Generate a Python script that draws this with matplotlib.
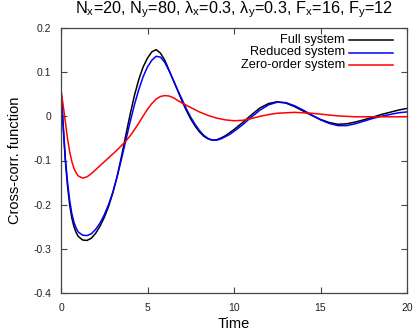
import matplotlib
matplotlib.use("Agg")
import matplotlib.pyplot as plt
from matplotlib.lines import Line2D

plt.rcParams['font.family'] = ['Liberation Sans', 'DejaVu Sans']
plt.rcParams['mathtext.fontset'] = 'custom'
plt.rcParams['mathtext.rm'] = 'Liberation Sans'
plt.rcParams['mathtext.it'] = 'Liberation Sans'

time = [0.0, 0.125, 0.25, 0.375, 0.5, 0.625, 0.75, 0.875, 1.0, 1.25, 1.5, 1.75,
        2.0, 2.25, 2.5, 2.75, 3.0, 3.25, 3.5, 3.75, 4.0, 4.25, 4.5, 4.75,
        5.0, 5.25, 5.5, 5.75, 6.0, 6.25, 6.5, 6.75, 7.0, 7.25, 7.5, 7.75,
        8.0, 8.25, 8.5, 8.75, 9.0, 9.25, 9.5, 9.75, 10.0, 10.5, 11.0, 11.5,
        12.0, 12.5, 13.0, 13.5, 14.0, 14.5, 15.0, 15.5, 16.0, 16.5, 17.0,
        17.5, 18.0, 18.5, 19.0, 19.5, 20.0]

full_system = [0.06, -0.022, -0.10, -0.157, -0.20, -0.23, -0.25, -0.263, -0.272,
               -0.280, -0.281, -0.276,
               -0.265, -0.249, -0.229, -0.204, -0.173, -0.135, -0.090, -0.042,
               0.005, 0.048, 0.084, 0.112, 0.132, 0.146, 0.151, 0.143,
               0.127, 0.104, 0.081, 0.058, 0.034, 0.013, -0.006, -0.022,
               -0.035, -0.045, -0.051, -0.054, -0.053, -0.049, -0.044, -0.037,
               -0.030, -0.014, 0.003, 0.019, 0.029, 0.033, 0.030,
               0.022, 0.012, 0.002, -0.007, -0.014, -0.018, -0.017, -0.013,
               -0.008, -0.002, 0.004, 0.009, 0.014, 0.018]

reduced_system = [0.06, -0.02, -0.095, -0.148, -0.19, -0.22, -0.24, -0.253, -0.262,
                  -0.269, -0.270, -0.266,
                  -0.256, -0.242, -0.223, -0.200, -0.171, -0.136, -0.096, -0.054,
                  -0.012, 0.027, 0.061, 0.090, 0.112, 0.127, 0.136, 0.134,
                  0.122, 0.103, 0.081, 0.059, 0.038, 0.017, -0.002, -0.018,
                  -0.032, -0.043, -0.050, -0.054, -0.054, -0.051, -0.046, -0.041,
                  -0.034, -0.019, -0.002, 0.014, 0.026, 0.032, 0.031,
                  0.024, 0.014, 0.003, -0.008, -0.016, -0.021, -0.021, -0.017,
                  -0.011, -0.005, 0.000, 0.004, 0.008, 0.010]

zero_order_system = [0.06, 0.025, -0.012, -0.05, -0.08, -0.102, -0.118, -0.128, -0.135,
                     -0.140, -0.137, -0.130,
                     -0.121, -0.112, -0.103, -0.094, -0.085, -0.076, -0.066, -0.056,
                     -0.044, -0.030, -0.015, 0.001, 0.016, 0.029, 0.039, 0.045,
                     0.047, 0.046, 0.042, 0.036, 0.030, 0.025, 0.020, 0.015,
                     0.010, 0.006, 0.002, -0.001, -0.004, -0.006, -0.008, -0.009,
                     -0.010, -0.009, -0.005, 0.000, 0.004, 0.007, 0.008,
                     0.009, 0.008, 0.007, 0.005, 0.003, 0.001, 0.000, -0.001,
                     -0.001, -0.001, -0.001, -0.001, -0.001, -0.001]

series = [("Full system", full_system, "#000000"),
          ("Reduced system", reduced_system, "#0000ff"),
          ("Zero-order system", zero_order_system, "#ff0000")]

x_ticks = [0, 5, 10, 15, 20]
y_ticks = [-0.4, -0.3, -0.2, -0.1, 0, 0.1, 0.2]
y_tick_labels = ["-0.4", "-0.3", "-0.2", "-0.1", "0", "0.1", "0.2"]

title = r"N$_\mathregular{x}$=20, N$_\mathregular{y}$=80, λ$_\mathregular{x}$=0.3, λ$_\mathregular{y}$=0.3, F$_\mathregular{x}$=16, F$_\mathregular{y}$=12"

W, H = 415, 331
fig = plt.figure(figsize=(W / 100, H / 100), dpi=100)
ax = fig.add_axes([61 / W, (H - 293) / H, (407 - 61) / W, (293 - 28) / H])

for name, vals, col in series:
    ax.plot(time, vals, color=col, lw=1.1)

ax.set_xlim(0, 20)
ax.set_ylim(-0.4, 0.2)
ax.set_xticks(x_ticks)
ax.set_xticklabels([str(v) for v in x_ticks])
ax.set_yticks(y_ticks)
ax.set_yticklabels(y_tick_labels)
ax.tick_params(direction='in', length=4.5, width=0.8, color='#444444',
               labelsize=7.5, top=True, right=True, pad=7, labelcolor='#222222')
for s in ax.spines.values():
    s.set_color('#444444')
    s.set_linewidth(0.9)

ax.set_xlabel("Time", fontsize=10.5, labelpad=3)
ax.set_ylabel("Cross-corr. function", fontsize=10.5, labelpad=8)
fig.text(234 / W, 1 - 13.5 / H, title, ha='center', va='baseline', fontsize=11.7)

# legend (gnuplot style: right-aligned text, sample to the right)
leg_y = [40, 52.5, 65]
for (name, vals, col), py in zip(series, leg_y):
    fig.text(345 / W, 1 - py / H, name, ha='right', va='center', fontsize=9.2)
    fig.add_artist(Line2D([349 / W, 393 / W], [1 - py / H, 1 - py / H],
                          color=col, lw=1.1, transform=fig.transFigure))

fig.savefig("out.png", dpi=100)
